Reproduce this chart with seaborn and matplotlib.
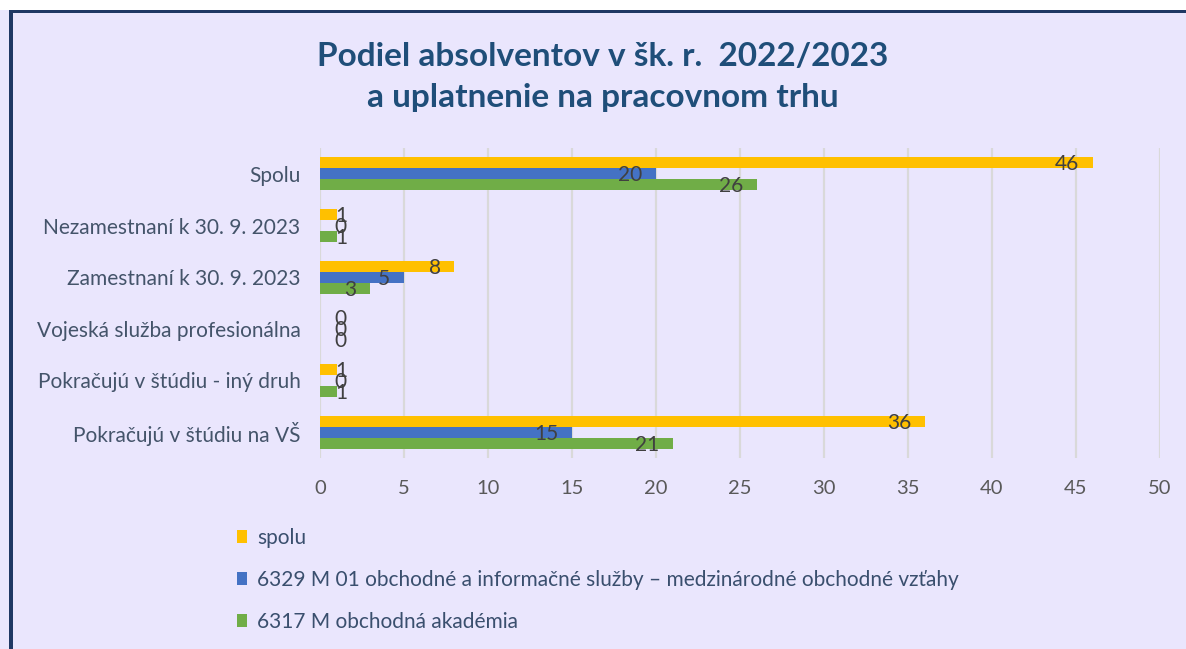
#!/usr/bin/env python3

import matplotlib
matplotlib.use('Agg')
import matplotlib.pyplot as plt
from matplotlib.patches import Rectangle
import seaborn as sns
import pandas as pd


CATEGORIES = ['Spolu', 'Nezamestnaní k 30. 9. 2023', 'Zamestnaní k 30. 9. 2023',
              'Vojeská služba profesionálna', 'Pokračujú v štúdiu - iný druh',
              'Pokračujú v štúdiu na VŠ']
SERIES = ['spolu',
          '6329 M 01 obchodné a informačné služby – medzinárodné obchodné vzťahy',
          '6317 M obchodná akadémia']
SPOLU = [46, 1, 8, 0, 1, 36]
OBIS = [20, 0, 5, 0, 0, 15]
OA = [26, 1, 3, 0, 1, 21]
X_TICKS = [0, 5, 10, 15, 20, 25, 30, 35, 40, 45, 50]
TITLE = 'Podiel absolventov v šk. r.  2022/2023\na uplatnenie na pracovnom trhu'

COLORS = ['#FFC000', '#4472C4', '#70AD47']
BG = '#EAE6FD'
NAVY = '#1F3864'
W, H = 1186, 649


def build_df():
    '''long format table for seaborn'''
    rows = []
    for name, vals in zip(SERIES, [SPOLU, OBIS, OA]):
        for cat, v in zip(CATEGORIES, vals):
            rows.append({'cat': cat, 'series': name, 'value': v})
    return pd.DataFrame(rows)


def frame(fig):
    '''white strip on top plus the dark border on top and left'''
    fig.add_artist(Rectangle((0, 1 - 10 / H), 1, 10 / H, transform=fig.transFigure,
                             facecolor='white', edgecolor='none', zorder=0))
    fig.add_artist(Rectangle((9 / W, 1 - 13 / H), 1, 3 / H, transform=fig.transFigure,
                             facecolor=NAVY, edgecolor='none', zorder=1))
    fig.add_artist(Rectangle((9 / W, 0), 3.5 / W, 1 - 10 / H, transform=fig.transFigure,
                             facecolor=NAVY, edgecolor='none', zorder=1))


def main():
    sns.set_style('white')
    plt.rcParams['font.family'] = ['Lato', 'DejaVu Sans']
    fig = plt.figure(figsize=(W / 100, H / 100), dpi=100, facecolor=BG)
    ax = fig.add_axes([320 / W, 1 - 458 / H, 840 / W, 310 / H])
    ax.set_facecolor(BG)

    df = build_df()
    sns.barplot(data=df, x='value', y='cat', hue='series', orient='h', order=CATEGORIES,
                hue_order=SERIES, palette=COLORS, width=0.64, gap=0, saturation=1,
                linewidth=0, ax=ax, zorder=3)

    # value labels near the bar end
    for cont in ax.containers:
        for bar in cont:
            v = bar.get_width()
            yc = bar.get_y() + bar.get_height() / 2
            if v >= 3:
                ax.annotate(f'{v:.0f}', (v, yc), xytext=(-10, -1), textcoords='offset points',
                            ha='right', va='center', fontsize=15, color='#404040', zorder=5)
            else:
                ax.annotate(f'{v:.0f}', (0, yc), xytext=(15, -1), textcoords='offset points',
                            ha='center', va='center', fontsize=15, color='#404040', zorder=5)

    ax.set_xlim(0, 50)
    ax.set_xticks(X_TICKS)
    ax.set_xlabel('')
    ax.set_ylabel('')
    ax.grid(axis='x', color='#D9D9D9', linewidth=1.6, zorder=0)
    ax.set_axisbelow(True)
    sns.despine(ax=ax, left=True, bottom=True)
    ax.tick_params(axis='x', length=0, pad=16, labelsize=14.5, labelcolor='#595959')
    ax.tick_params(axis='y', length=0, pad=14, labelsize=15, labelcolor='#44546A')

    handles, labels = ax.get_legend_handles_labels()
    ax.get_legend().remove()
    fig.legend(handles, labels, loc='upper left', bbox_to_anchor=(237 / W, 1 - 528 / H),
               frameon=False, fontsize=15, labelcolor='#3A4F6E', labelspacing=1.05,
               handlelength=0.5, handleheight=0.6, handletextpad=0.45,
               borderpad=0, borderaxespad=0)

    fig.text(603 / W, 1 - 77 / H, TITLE, ha='center', va='center', fontsize=24,
             fontweight='bold', color='#1F4E79', linespacing=1.5)
    frame(fig)

    fig.savefig('out.png', dpi=100, facecolor=BG)


if __name__ == '__main__':
    main()
